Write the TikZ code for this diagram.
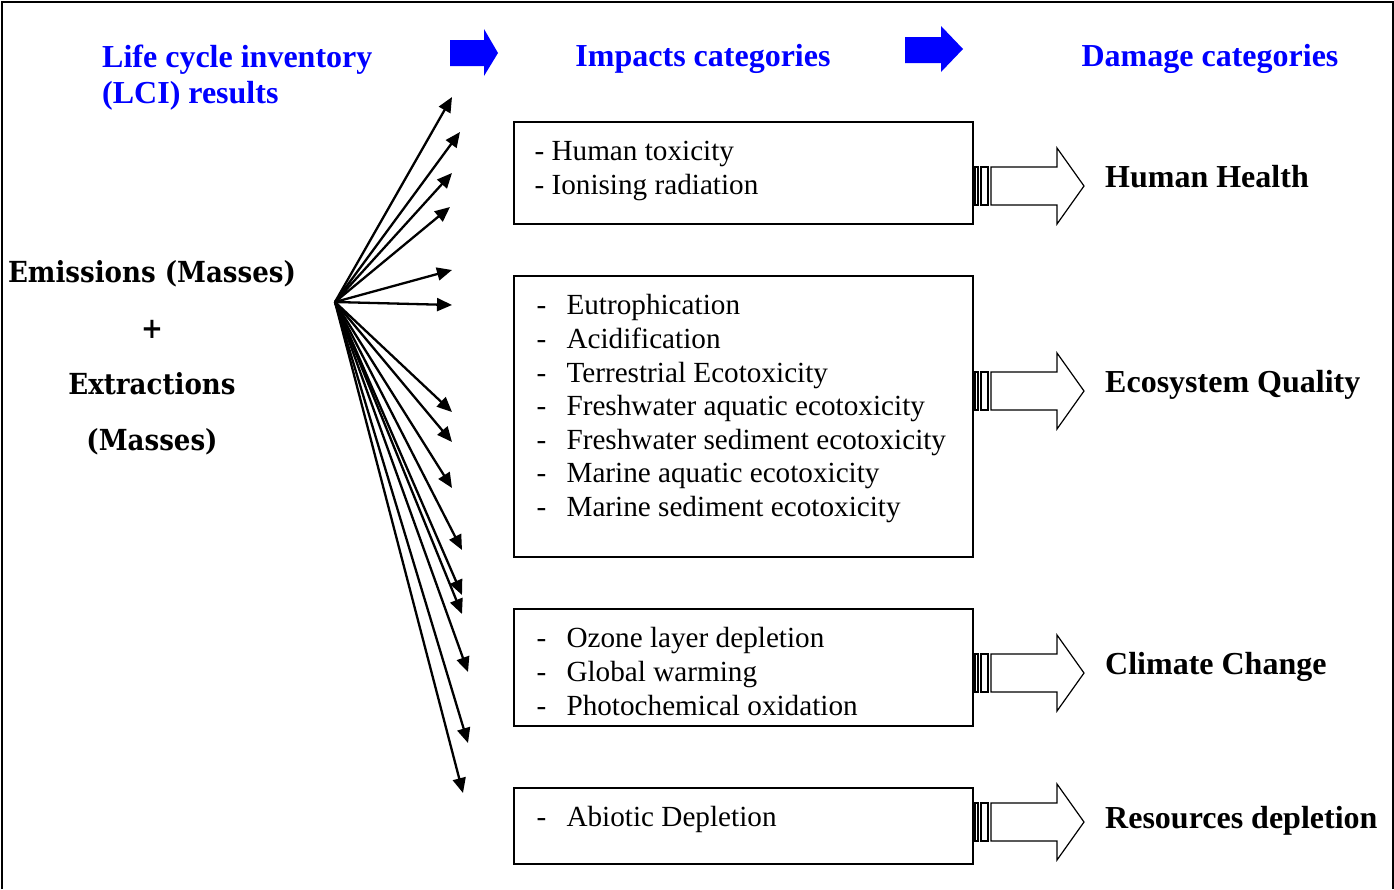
\documentclass[tikz,border=0pt]{standalone}
\usepackage{fontspec}
\setmainfont{Liberation Serif}
\newfontfamily\emisfont{DejaVu Serif Condensed}
\usetikzlibrary{arrows.meta,positioning}
\definecolor{headblue}{RGB}{0,0,255}
\tikzset{
  heading/.style = {font = \fontsize{32}{36}\selectfont\bfseries, text = headblue, inner sep = 0pt},
  impbox/.style = {draw, line width = 1.3pt, minimum width = 459pt, inner sep = 0pt},
  itemtxt/.style = {font = \fontsize{29.2}{33.6}\selectfont, align = left, inner sep = 0pt},
  damage/.style = {font = \fontsize{32}{36}\selectfont\bfseries, anchor = base west, inner sep = 0pt},
  fan/.style = {-{Triangle[length = 15pt, width = 13pt]}, line width = 2.3pt},
}
\newcommand{\dashitem}[1]{\makebox[30pt][l]{-}#1}
\begin{document}
\begin{tikzpicture}[x = 1pt, y = -1pt]
    \useasboundingbox (0,0) rectangle (1394,889);
    \draw[line width = 1.5pt] (2,889) -- (2,2) -- (1393,2) -- (1393,889);
    % headings
    \node[heading, anchor = west, align = left] (lci) at (102,78) {Life cycle inventory\\(LCI) results};
    \node[heading] (impact) at (703,59) {Impacts categories};
    \node[heading] (damage) at (1210,59) {Damage categories};
    \fill[headblue] (450,40) -- (484,40) -- (484,29) -- (498,53) -- (484,76) -- (484,66) -- (450,66) -- cycle;
    \fill[headblue] (905,37) -- (941,37) -- (941,26) -- (963,49) -- (941,72) -- (941,63) -- (905,63) -- cycle;
    % inventory
    \node[font = \emisfont\fontsize{29}{56}\selectfont\bfseries, align = center, anchor = north, inner sep = 0pt] (inv) at (152,260)
        {Emissions (Masses)\\+\\Extractions\\(Masses)};
    \coordinate (src) at (335,302);
    \foreach \x/\y [count = \i] in {452/97, 460/132, 452/173, 450/207, 452/270, 452/305,
        452/412, 452/442, 452/488, 462/550, 462/595, 462/614, 468/672, 468/743, 463/793} {
        \coordinate (t\i) at (\x,\y);
        \draw[fan] (src) -- (t\i);
    }
    % impact boxes
    \node[impbox, minimum height = 102pt] (hhbox) at (743.5,173) {};
    \node[impbox, minimum height = 281pt] (eqbox) at (743.5,416.5) {};
    \node[impbox, minimum height = 117pt] (ccbox) at (743.5,667.5) {};
    \node[impbox, minimum height = 76pt] (rdbox) at (743.5,826) {};
    \node[itemtxt, below right = 20pt and 21pt of hhbox.north west] (hhlist)
        {- Human toxicity\\- Ionising radiation};
    \node[itemtxt, below right = 19pt and 23pt of eqbox.north west] (eqlist)
        {\dashitem{Eutrophication}\\\dashitem{Acidification}\\\dashitem{Terrestrial Ecotoxicity}\\
         \dashitem{Freshwater aquatic ecotoxicity}\\\dashitem{Freshwater sediment ecotoxicity}\\
         \dashitem{Marine aquatic ecotoxicity}\\\dashitem{Marine sediment ecotoxicity}};
    \node[itemtxt, below right = 19pt and 23pt of ccbox.north west] (cclist)
        {\dashitem{Ozone layer depletion}\\\dashitem{Global warming}\\\dashitem{Photochemical oxidation}};
    \node[itemtxt, below right = 19pt and 23pt of rdbox.north west] (rdlist)
        {\dashitem{Abiotic Depletion}};
    % striped arrows
    \foreach \c in {186, 391, 673, 822} {
        \draw[line width = 1.2pt, fill = white] (975,\c-19) rectangle (978,\c+19);
        \draw[line width = 1.2pt, fill = white] (981,\c-19) rectangle (988,\c+19);
        \draw[line width = 1.2pt, fill = white, line join = miter] (991,\c-19) -- (1057,\c-19) -- (1057,\c-38)
            -- (1084,\c) -- (1057,\c+38) -- (1057,\c+19) -- (991,\c+19) -- cycle;
    }
    % damage categories
    \node[damage] (hh) at (1105,187) {Human Health};
    \node[damage] (eq) at (1105,392) {Ecosystem Quality};
    \node[damage] (cc) at (1105,674) {Climate Change};
    \node[damage] (rd) at (1105,828) {Resources depletion};
\end{tikzpicture}
\end{document}
